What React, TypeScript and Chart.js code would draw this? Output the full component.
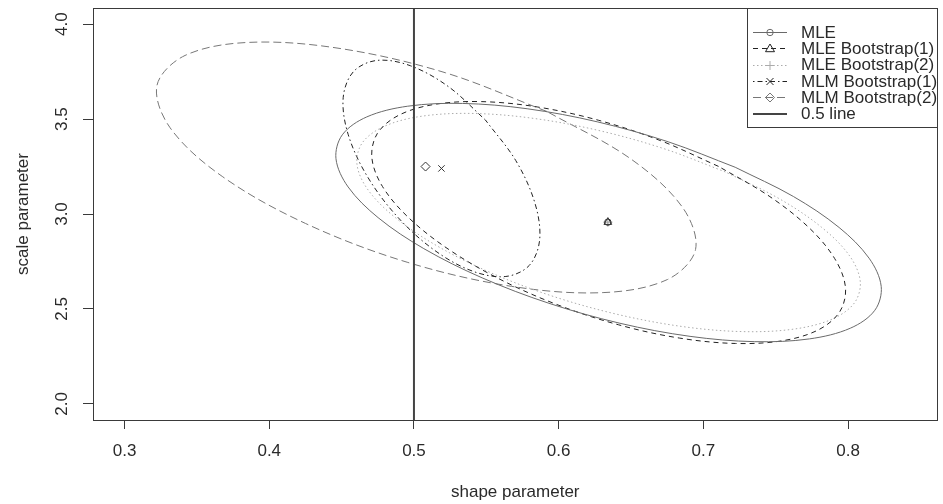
import { useEffect, useRef } from "react";
import { Chart, registerables } from "chart.js";

Chart.register(...registerables);

// ---- axis setup ----
const X_MIN = 0.2782;
const X_MAX = 0.8618;
const Y_MIN = 1.915;
const Y_MAX = 4.085;
const X_TICKS = [0.3, 0.4, 0.5, 0.6, 0.7, 0.8];
const X_TICK_LABELS = ["0.3", "0.4", "0.5", "0.6", "0.7", "0.8"];
const Y_TICKS = [2.0, 2.5, 3.0, 3.5, 4.0];
const Y_TICK_LABELS = ["2.0", "2.5", "3.0", "3.5", "4.0"];
const X_TITLE = "shape parameter";
const Y_TITLE = "scale parameter";

// ---- confidence region outlines (shape, scale) ----
const MLE_SHAPE = [0.722, 0.6757, 0.6267, 0.5782, 0.5335, 0.4957, 0.4674, 0.4505, 0.4461, 0.4545, 0.4752, 0.5068, 0.5471, 0.5933, 0.6423, 0.6908, 0.7355, 0.7733, 0.8016, 0.8185, 0.8229, 0.8145, 0.7938, 0.7622];
const MLE_SCALE = [3.2462, 3.3803, 3.4854, 3.5544, 3.5824, 3.5678, 3.5114, 3.4171, 3.2913, 3.1425, 2.981, 2.8177, 2.6638, 2.5297, 2.4246, 2.3556, 2.3276, 2.3422, 2.3986, 2.4929, 2.6187, 2.7675, 2.929, 3.0923];

const MLE_BOOT1_SHAPE = [0.7105, 0.6703, 0.6277, 0.5856, 0.5468, 0.514, 0.4894, 0.4747, 0.4709, 0.4782, 0.4962, 0.5236, 0.5586, 0.5987, 0.6413, 0.6834, 0.7222, 0.755, 0.7796, 0.7943, 0.7982, 0.7908, 0.7729, 0.7454];
const MLE_BOOT1_SCALE = [3.2506, 3.3867, 3.4934, 3.5634, 3.5919, 3.5771, 3.5198, 3.4241, 3.2964, 3.1454, 2.9814, 2.8156, 2.6594, 2.5233, 2.4166, 2.3466, 2.3181, 2.3329, 2.3902, 2.4859, 2.6136, 2.7646, 2.9286, 3.0944];

const MLE_BOOT2_SHAPE = [0.7152, 0.6726, 0.6273, 0.5825, 0.5413, 0.5064, 0.4803, 0.4646, 0.4606, 0.4683, 0.4875, 0.5166, 0.5538, 0.5964, 0.6417, 0.6865, 0.7277, 0.7626, 0.7888, 0.8044, 0.8084, 0.8007, 0.7815, 0.7524];
const MLE_BOOT2_SCALE = [3.2216, 3.3444, 3.4406, 3.5038, 3.5295, 3.5161, 3.4645, 3.3781, 3.2629, 3.1267, 2.9788, 2.8293, 2.6884, 2.5656, 2.4694, 2.4062, 2.3805, 2.3939, 2.4455, 2.5319, 2.6471, 2.7833, 2.9312, 3.0807];

const MLM_BOOT1_SHAPE = [0.5494, 0.5238, 0.4975, 0.4745, 0.4582, 0.4511, 0.4545, 0.4676, 0.4886, 0.5142, 0.5405, 0.5635, 0.5798, 0.5869, 0.5835, 0.5704];
const MLM_BOOT1_SCALE = [3.495, 3.671, 3.781, 3.809, 3.75, 3.613, 3.42, 3.2, 2.985, 2.809, 2.699, 2.671, 2.73, 2.867, 3.06, 3.281];

const MLM_BOOT2_SHAPE = [0.5919, 0.5217, 0.4496, 0.3863, 0.3418, 0.3224, 0.3315, 0.3675, 0.4251, 0.4953, 0.5674, 0.6307, 0.6752, 0.6946, 0.6855, 0.6495];
const MLM_BOOT2_SCALE = [3.54, 3.744, 3.871, 3.904, 3.835, 3.677, 3.454, 3.198, 2.95, 2.746, 2.619, 2.586, 2.655, 2.813, 3.036, 3.292];

// ---- point estimates (shape, scale) ----
const MLE_EST = [0.634, 2.957];
const MLM_BOOT1_EST = [0.519, 3.24];
const MLM_BOOT2_EST = [0.508, 3.25];
const REF_SHAPE = 0.5;

const LEGEND_LABELS = [
  "MLE",
  "MLE Bootstrap(1)",
  "MLE Bootstrap(2)",
  "MLM Bootstrap(1)",
  "MLM Bootstrap(2)",
  "0.5 line",
];

// ---- styles ----
const FONT = '"Liberation Sans", Arial, Helvetica, sans-serif';
const FONT_SIZE = 17;
const TEXT = "#2a2a2a";
const AXIS = "#3a3a3a";

type Marker = "circle" | "triangle" | "plus" | "cross" | "diamond" | null;
type SeriesStyle = { color: string; dash: number[]; width: number; marker: Marker };

const STYLES: SeriesStyle[] = [
  { color: "#6a6a6a", dash: [], width: 1, marker: "circle" },
  { color: "#222222", dash: [5, 4], width: 1, marker: "triangle" },
  { color: "#ababab", dash: [1.5, 2.5], width: 1, marker: "plus" },
  { color: "#222222", dash: [1.5, 3, 5, 3], width: 1, marker: "cross" },
  { color: "#777777", dash: [8, 4], width: 1, marker: "diamond" },
  { color: "#444444", dash: [], width: 2, marker: null },
];

const POINT_STYLE: Record<string, string> = {
  circle: "circle",
  triangle: "triangle",
  plus: "cross",
  cross: "crossRot",
  diamond: "rectRot",
};

function closedOutline(xs: number[], ys: number[]) {
  const pts = xs.map((x, i) => ({ x, y: ys[i] }));
  return [...pts, pts[0]];
}

function drawMarker(ctx: CanvasRenderingContext2D, m: Marker, x: number, y: number) {
  if (!m) return;
  ctx.beginPath();
  if (m === "circle") {
    ctx.arc(x, y, 3.2, 0, Math.PI * 2);
  } else if (m === "triangle") {
    ctx.moveTo(x, y - 4.5);
    ctx.lineTo(x + 4.5, y + 3.2);
    ctx.lineTo(x - 4.5, y + 3.2);
    ctx.closePath();
  } else if (m === "plus") {
    ctx.moveTo(x - 4.5, y);
    ctx.lineTo(x + 4.5, y);
    ctx.moveTo(x, y - 4.5);
    ctx.lineTo(x, y + 4.5);
  } else if (m === "cross") {
    ctx.moveTo(x - 3.5, y - 3.5);
    ctx.lineTo(x + 3.5, y + 3.5);
    ctx.moveTo(x + 3.5, y - 3.5);
    ctx.lineTo(x - 3.5, y + 3.5);
  } else if (m === "diamond") {
    ctx.moveTo(x, y - 4.5);
    ctx.lineTo(x + 4.5, y);
    ctx.lineTo(x, y + 4.5);
    ctx.lineTo(x - 4.5, y);
    ctx.closePath();
  }
  ctx.stroke();
}

const framePlugin = {
  id: "rFrame",
  afterDraw(chart: any) {
    const { ctx, chartArea: a, scales } = chart;
    ctx.save();
    // plot box
    ctx.strokeStyle = AXIS;
    ctx.lineWidth = 1;
    ctx.setLineDash([]);
    ctx.strokeRect(Math.round(a.left) + 0.5, Math.round(a.top) + 0.5, Math.round(a.right - a.left) - 1, Math.round(a.bottom - a.top));

    // rotated y tick labels
    const ys = scales.y;
    ctx.fillStyle = TEXT;
    ctx.font = `${FONT_SIZE}px ${FONT}`;
    ctx.textAlign = "center";
    ctx.textBaseline = "middle";
    Y_TICKS.forEach((v, i) => {
      const py = ys.getPixelForValue(v);
      ctx.save();
      ctx.translate(62, py);
      ctx.rotate(-Math.PI / 2);
      ctx.fillText(Y_TICK_LABELS[i], 0, 0);
      ctx.restore();
    });

    // legend box in the top-right corner
    const right = Math.round(a.right) - 0.5;
    const top = Math.round(a.top) + 0.5;
    const left = 747.5;
    const rowH = 16.3;
    const firstRow = 32;
    const bottom = firstRow + rowH * (LEGEND_LABELS.length - 1) + 14;
    ctx.strokeStyle = AXIS;
    ctx.lineWidth = 1;
    ctx.strokeRect(left, top, right - left, bottom - top);

    ctx.font = `${FONT_SIZE}px ${FONT}`;
    ctx.textAlign = "left";
    LEGEND_LABELS.forEach((label, i) => {
      const st = STYLES[i];
      const y = firstRow + i * rowH;
      const ly = Math.round(y) + (st.width === 1 ? 0.5 : 0);
      ctx.strokeStyle = st.color;
      ctx.lineWidth = st.width;
      ctx.setLineDash(st.dash);
      ctx.beginPath();
      ctx.moveTo(753, ly);
      ctx.lineTo(787, ly);
      ctx.stroke();
      ctx.setLineDash([]);
      ctx.lineWidth = 1;
      drawMarker(ctx, st.marker, 770, Math.round(y) + 0.5);
      ctx.fillStyle = TEXT;
      ctx.fillText(label, 801, y + 1);
    });
    ctx.restore();
  },
};

export default function App() {
  const canvasRef = useRef<HTMLCanvasElement | null>(null);

  useEffect(() => {
    if (!canvasRef.current) return;
    const outlines = [
      closedOutline(MLE_SHAPE, MLE_SCALE),
      closedOutline(MLE_BOOT1_SHAPE, MLE_BOOT1_SCALE),
      closedOutline(MLE_BOOT2_SHAPE, MLE_BOOT2_SCALE),
      closedOutline(MLM_BOOT1_SHAPE, MLM_BOOT1_SCALE),
      closedOutline(MLM_BOOT2_SHAPE, MLM_BOOT2_SCALE),
    ];
    const estimates = [MLE_EST, MLE_EST, MLE_EST, MLM_BOOT1_EST, MLM_BOOT2_EST];

    const regionSets = outlines.map((data, i) => ({
      label: LEGEND_LABELS[i],
      data,
      showLine: true,
      borderColor: STYLES[i].color,
      borderWidth: STYLES[i].width,
      borderDash: STYLES[i].dash,
      tension: 0.34,
      pointRadius: 0,
      fill: false,
    }));
    const pointSets = estimates.map((p, i) => ({
      label: LEGEND_LABELS[i] + " estimate",
      data: [{ x: p[0], y: p[1] }],
      showLine: false,
      pointStyle: POINT_STYLE[STYLES[i].marker as string],
      pointRadius: STYLES[i].marker === "circle" ? 3.2 : 4.5,
      pointBorderWidth: 1,
      pointBorderColor: i === 2 ? "#999999" : "#333333",
      pointBackgroundColor: "rgba(0,0,0,0)",
    }));
    const refLine = {
      label: LEGEND_LABELS[5],
      data: [
        { x: REF_SHAPE, y: Y_MIN },
        { x: REF_SHAPE, y: Y_MAX },
      ],
      showLine: true,
      borderColor: STYLES[5].color,
      borderWidth: 2,
      pointRadius: 0,
      tension: 0,
    };

    const chart = new Chart(canvasRef.current, {
      type: "scatter",
      data: { datasets: [...pointSets, refLine, ...regionSets] as any },
      plugins: [framePlugin],
      options: {
        animation: false,
        responsive: false,
        devicePixelRatio: 1,
        events: [],
        layout: { padding: { top: 8, right: 2, left: 0, bottom: 0 } },
        plugins: { legend: { display: false }, tooltip: { enabled: false } },
        scales: {
          x: {
            type: "linear",
            min: X_MIN,
            max: X_MAX,
            afterBuildTicks: (s: any) => {
              s.ticks = X_TICKS.map((v) => ({ value: v }));
            },
            afterFit: (s: any) => {
              s.height = 84;
            },
            grid: { drawOnChartArea: false, drawTicks: true, tickLength: 9, color: AXIS, lineWidth: 1 },
            border: { display: true, color: AXIS, width: 1 },
            ticks: {
              color: TEXT,
              font: { family: FONT, size: FONT_SIZE },
              padding: 12,
              maxRotation: 0,
              autoSkip: false,
              callback: (_v: any, i: number) => X_TICK_LABELS[i],
            },
            title: {
              display: true,
              text: X_TITLE,
              color: TEXT,
              font: { family: FONT, size: FONT_SIZE },
              padding: { top: 0, bottom: 1 },
            },
          },
          y: {
            type: "linear",
            min: Y_MIN,
            max: Y_MAX,
            afterBuildTicks: (s: any) => {
              s.ticks = Y_TICKS.map((v) => ({ value: v }));
            },
            afterFit: (s: any) => {
              s.width = 93;
            },
            grid: { drawOnChartArea: false, drawTicks: true, tickLength: 10, color: AXIS, lineWidth: 1 },
            border: { display: true, color: AXIS, width: 1 },
            ticks: { display: false },
            title: {
              display: true,
              text: Y_TITLE,
              color: TEXT,
              font: { family: FONT, size: FONT_SIZE },
              padding: { top: 13, bottom: 0 },
            },
          },
        },
      },
    });
    return () => chart.destroy();
  }, []);

  return (
    <div style={{ position: "fixed", left: 0, top: 0, width: 943, height: 504, background: "#fff" }}>
      <canvas ref={canvasRef} width={943} height={504} style={{ width: 943, height: 504, display: "block" }} />
    </div>
  );
}
